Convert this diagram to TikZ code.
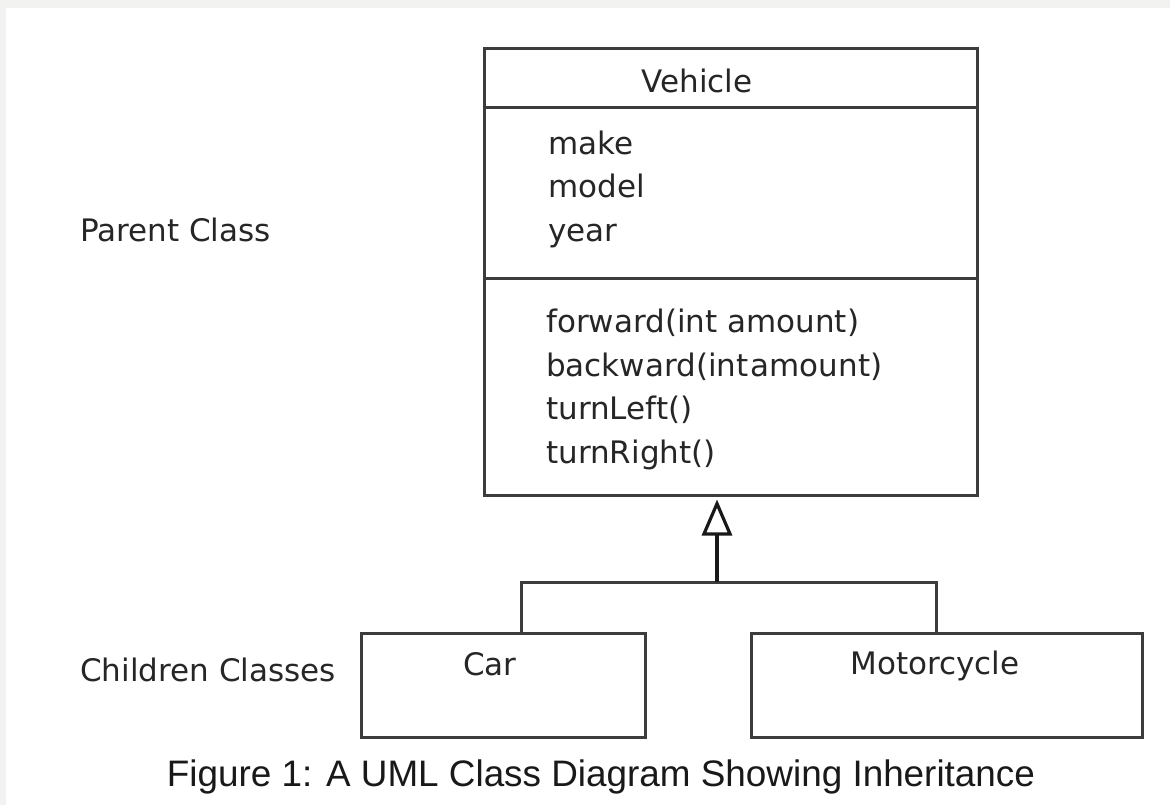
\documentclass[tikz,border=0pt]{standalone}
\usepackage{graphicx}
\usepackage{fontspec}
\setmainfont{DejaVu Sans}
\newfontfamily\capfont{Liberation Sans}
\usetikzlibrary{arrows.meta,calc}
\definecolor{edge}{HTML}{3C3C3C}
\definecolor{ink}{HTML}{262626}
\definecolor{frame}{HTML}{F2F2F0}
\tikzset{
  umlbox/.style={draw=edge, line width=3pt, rectangle, inner sep=0pt, fill=white},
  txt/.style={font=\fontsize{31}{36}\selectfont, text=ink, inner sep=0pt, anchor=base west},
  ctxt/.style={txt, anchor=base},
  link/.style={draw=edge, line width=3pt},
  stem/.style={draw=black!90, line width=4pt},
}
\begin{document}
\begin{tikzpicture}[x=1pt,y=-1pt]
\fill[white] (0,0) rectangle (1170,805);
\fill[frame] (0,0) rectangle (1170,8);
\fill[frame] (0,0) rectangle (6,805);
\useasboundingbox (0,0) rectangle (1170,805);

% classes
\node[umlbox, minimum width=493pt, minimum height=446pt] (vehicle) at (730.5,272) {};
\node[umlbox, minimum width=284pt, minimum height=104pt] (car) at (503,685) {};
\node[umlbox, minimum width=391pt, minimum height=104pt] (moto) at (946.5,685) {};

\draw[link] ($(vehicle.north west)+(0,60)$) -- ($(vehicle.north east)+(0,60)$);
\draw[link] ($(vehicle.north west)+(0,231)$) -- ($(vehicle.north east)+(0,231)$);

% texts
\node[ctxt] (vname) at (697,93) {Vehicle};
\node[txt] (a1) at (548,155) {make};
\node[txt] (a2) at (548,198) {model};
\node[txt] (a3) at (548,241) {year};
\node[txt] (m1) at (546,332) {forward(int amount)};
\node[txt] (m2) at (546,376) {backward(int\hspace{2pt}amount)};
\node[txt] (m3) at (546,419) {turnLeft()};
\node[txt] (m4) at (546,463) {turnRight()};
\node[ctxt] (cname) at (490,675) {Car};
\node[ctxt] (mname) at (935,674) {Motorcycle};
\node[txt] (parent) at (80,242) {Parent Class};
\node[txt] (children) at (80,681) {Children Classes};

% inheritance
\coordinate (jn) at (717,582);
\draw[link] ([xshift=18pt]car.north) |- (jn) -| ([xshift=-10.5pt]moto.north);
\draw[stem, -{Triangle[open,length=36pt,width=30pt,line width=3.2pt]}] (jn) -- ($(vehicle.south -| jn)+(0,3)$);

% caption
\node[inner sep=0pt, anchor=base, text=black!90] (caption) at (601,786)
  {\resizebox{868pt}{!}{\capfont\fontsize{37}{40}\selectfont Figure 1: A UML Class Diagram Showing Inheritance}};
\end{tikzpicture}
\end{document}
